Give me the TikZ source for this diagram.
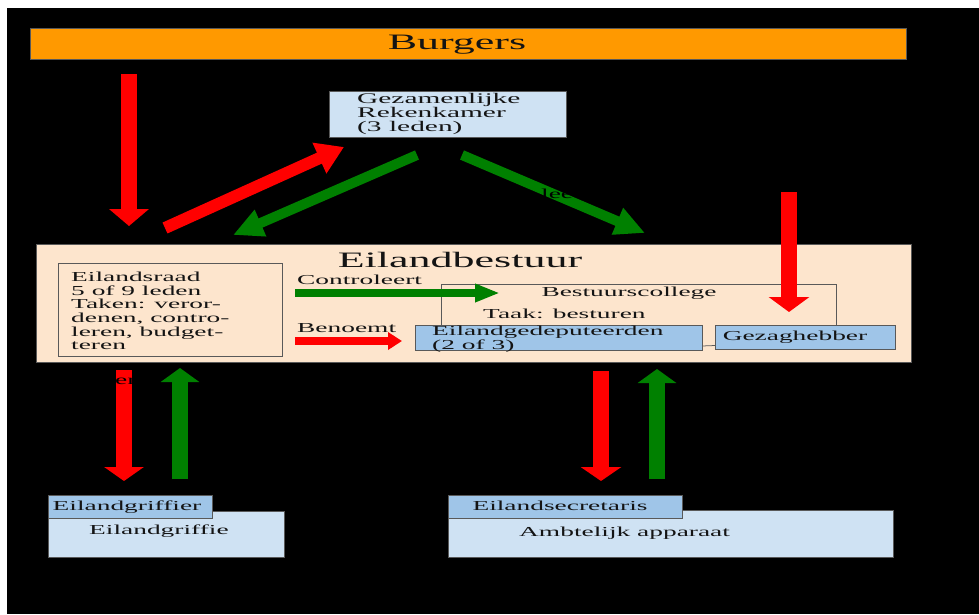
\documentclass[tikz,border=0pt]{standalone}
\usepackage{fontspec}
\setmainfont[FakeStretch=2]{Liberation Serif}
\usetikzlibrary{arrows.meta}
\definecolor{orng}{HTML}{FF9900}
\definecolor{peach}{HTML}{FDE5CD}
\definecolor{lblue}{HTML}{CFE2F3}
\definecolor{mblue}{HTML}{9FC5E8}
\definecolor{bord}{HTML}{595959}
\definecolor{grn}{HTML}{008000}
\definecolor{txt}{HTML}{141414}
\begin{document}
\begin{tikzpicture}[x=1pt,y=-1pt,
  rect/.style={draw=bord, line width=0.75pt, inner sep=0pt, outer sep=0pt, anchor=north west},
  sm/.style={font=\fontsize{13.7}{13.6}\selectfont, text=txt, inner sep=0pt, align=left},
  lg/.style={font=\fontsize{22}{24}\selectfont, text=txt, inner sep=0pt},
  redV/.style={draw=red, line width=16pt, -{Triangle[length=17pt, width=39pt]}},
  grnV/.style={draw=grn, line width=16pt, -{Triangle[length=14pt, width=38pt]}},
  redD/.style={draw=red, line width=12pt, -{Triangle[length=27pt, width=32pt]}},
  grnD/.style={draw=grn, line width=10pt, -{Triangle[length=30pt, width=27pt]}},
  grnS/.style={draw=grn, line width=8pt, -{Triangle[length=25pt, width=17pt]}},
  redS/.style={draw=red, line width=8pt, -{Triangle[length=14pt, width=17pt]}},
  hidden/.style={font=\fontsize{13.7}{13.6}\selectfont, text=black, inner sep=0pt}
]
\useasboundingbox (0,0) rectangle (979,614);
\fill[white] (0,0) rectangle (979,614);
\fill[black] (7,8) rectangle (979,614);

% Burgers
\node[rect, fill=orng, minimum width=876pt, minimum height=31pt] (burgers) at (30,28) {};
\node[lg] (burgersT) at (457,44.5) {Burgers};

% Rekenkamer
\node[rect, fill=lblue, minimum width=237pt, minimum height=46pt] (rek) at (329,91) {};
\node[sm, font=\fontsize{14.7}{13.6}\selectfont, anchor=west] (rekT) at (357,114) {Gezamenlijke\\Rekenkamer\\(3 leden)};

% Eilandbestuur
\node[rect, fill=peach, minimum width=875pt, minimum height=118pt] (eb) at (36,244) {};
\node[lg] (ebT) at (460,259.5) {Eilandbestuur};

% Eilandsraad
\node[rect, minimum width=224pt, minimum height=93pt] (er) at (58,263) {};
\node[sm, anchor=west] (erT) at (71,311) {Eilandsraad\\5 of 9 leden\\Taken: veror-\\denen, contro-\\leren, budget-\\teren};

% Bestuurscollege
\coordinate (bcBL) at (441,325);
\coordinate (bcTL) at (441,284);
\coordinate (bcTR) at (836,284);
\coordinate (bcBR) at (836,325);
\draw[bord, line width=0.75pt] (bcBL) -- (bcTL) -- (bcTR) -- (bcBR);
\node[sm] (bcT) at (629,293) {Bestuurscollege};
\node[sm, anchor=west] (taak) at (483,314) {Taak: besturen};

\node[rect, fill=mblue, minimum width=287pt, minimum height=25pt] (gd) at (415,325) {};
\node[sm, anchor=west] (gdT) at (432,339) {Eilandgedeputeerden\\(2 of 3)};
\node[rect, fill=mblue, minimum width=180pt, minimum height=24pt] (gz) at (715,325) {};
\node[sm] (gzT) at (795,337) {Gezaghebber};
\draw[bord, line width=0.75pt] ([yshift=-8.5pt]gd.east) -- ([yshift=-8.5pt]gz.west);

% Labels inside
\node[sm, anchor=west] (ctrl) at (297,280) {Controleert};
\node[sm, anchor=west] (ben) at (297,328) {Benoemt};
\coordinate (c1) at (295,293); \coordinate (c2) at (500,293);
\draw[grnS] (c1) -- (c2);
\coordinate (b1) at (295,341); \coordinate (b2) at (402,341);
\draw[redS] (b1) -- (b2);

% top arrows
\coordinate (a1s) at (129,74); \coordinate (a1e) at (129,226);
\draw[redV] (a1s) -- (a1e);
\coordinate (a2s) at (165,228); \coordinate (a2e) at (344,147);
\draw[redD] (a2s) -- (a2e);
\coordinate (a3s) at (417,155); \coordinate (a3e) at (233,235);
\draw[grnD] (a3s) -- (a3e);
\coordinate (a4s) at (462,155); \coordinate (a4e) at (645,233);
\draw[grnD] (a4s) -- (a4e);
\node[hidden, anchor=west] (leeT) at (541,194) {lee};
\coordinate (a5s) at (789,192); \coordinate (a5e) at (789,312);
\draw[redV, -{Triangle[length=15pt, width=40pt]}] (a5s) -- (a5e);

% bottom arrows
\coordinate (d1s) at (124,370); \coordinate (d1e) at (124,481);
\draw[redV, -{Triangle[length=14pt, width=39pt]}] (d1s) -- (d1e);
\node[hidden, anchor=west] (enT) at (115,381) {en};
\coordinate (u1s) at (180,479); \coordinate (u1e) at (180,368);
\draw[grnV] (u1s) -- (u1e);
\coordinate (d2s) at (601,371); \coordinate (d2e) at (601,481);
\draw[redV, -{Triangle[length=14pt, width=40pt]}] (d2s) -- (d2e);
\coordinate (u2s) at (657,479); \coordinate (u2e) at (657,369);
\draw[grnV] (u2s) -- (u2e);

% bottom boxes
\node[rect, fill=lblue, minimum width=236pt, minimum height=46pt] (griffie) at (48,511) {};
\node[rect, fill=mblue, minimum width=164pt, minimum height=23pt] (griffier) at (48,495) {};
\node[sm] (griffierT) at (127,507) {Eilandgriffier};
\node[sm, anchor=west] (griffieT) at (89,531) {Eilandgriffie};
\node[rect, fill=lblue, minimum width=445pt, minimum height=47pt] (amb) at (448,510) {};
\node[rect, fill=mblue, minimum width=234pt, minimum height=23pt] (sec) at (448,495) {};
\node[sm] (secT) at (560,506) {Eilandsecretaris};
\node[sm, anchor=west] (ambT) at (519,533) {Ambtelijk apparaat};
\end{tikzpicture}
\end{document}
